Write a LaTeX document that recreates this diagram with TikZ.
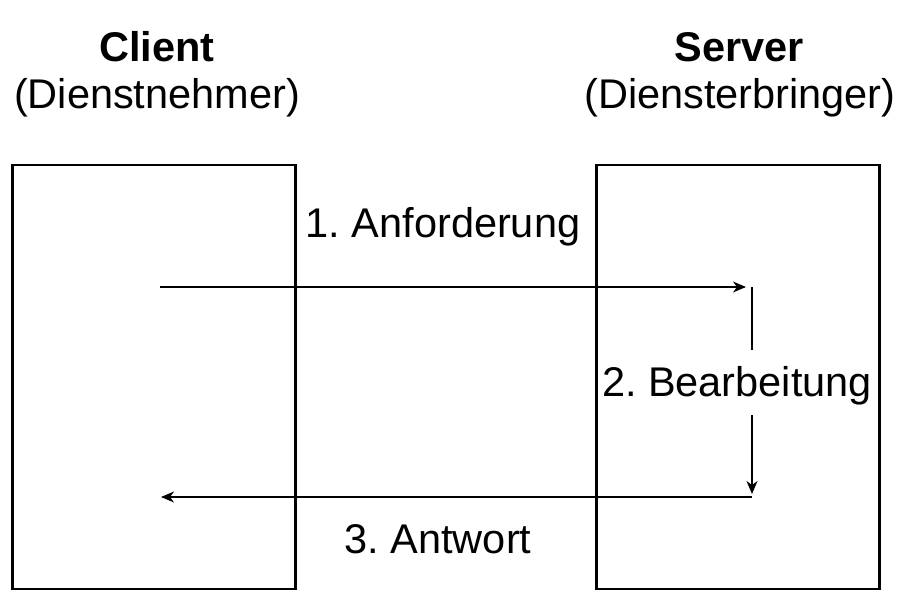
\documentclass[tikz,border=0pt]{standalone}
\usepackage{fontspec}
\setmainfont{Liberation Sans}
\usetikzlibrary{arrows.meta}
\frenchspacing
\begin{document}
\begin{tikzpicture}[x=1pt,y=-1pt,
  box/.style={draw,line width=2.5pt,minimum width=283pt,minimum height=424pt,inner sep=0pt,anchor=north west},
  lbl/.style={font=\fontsize{41.5}{48}\selectfont,anchor=base,inner sep=0pt},
  arr/.style={line width=1.5pt,-{Stealth[length=13pt,width=11pt,inset=4pt]}},
  ln/.style={line width=1.5pt}]
\useasboundingbox (0,0) rectangle (904,595);
\node[box] (client) at (11,163.5) {};
\node[box] (server) at (595,163.5) {};
\node[lbl,font=\fontsize{41.5}{48}\selectfont\bfseries] (ct) at (157,61) {Client};
\node[lbl] (cs) at (157,108) {(Dienstnehmer)};
\node[lbl,font=\fontsize{41.5}{48}\selectfont\bfseries] (st) at (739,61) {Server};
\node[lbl] (ss) at (740,108) {(Diensterbringer)};
\node[lbl] (l1) at (443,237) {1. Anforderung};
\node[lbl] (l2) at (737,396) {2. Bearbeitung};
\node[lbl] (l3) at (438,553) {3. Antwort};
\coordinate (a1s) at (160,287);
\coordinate (a1e) at (746,287);
\coordinate (v1s) at (752,287);
\coordinate (v1e) at (752,350);
\coordinate (v2s) at (752,415);
\coordinate (v2e) at (752,494);
\coordinate (a3s) at (752,497);
\coordinate (a3e) at (161,497);
\draw[arr] (a1s) -- (a1e);
\draw[ln] (v1s) -- (v1e);
\draw[arr] (v2s) -- (v2e);
\draw[arr] (a3s) -- (a3e);
\end{tikzpicture}
\end{document}
